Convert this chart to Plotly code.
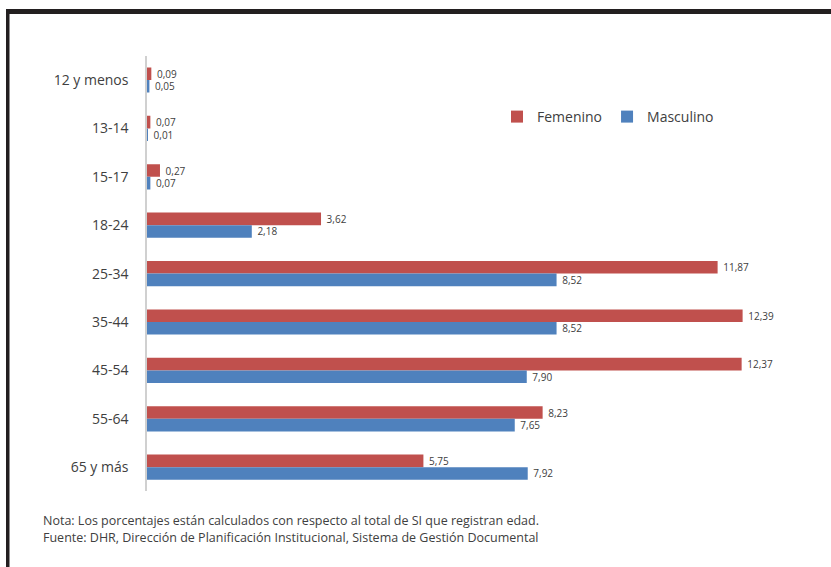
import plotly.graph_objects as go

categories = ["12 y menos", "13-14", "15-17", "18-24", "25-34", "35-44", "45-54", "55-64", "65 y más"]
femenino = [0.09, 0.07, 0.27, 3.62, 11.87, 12.39, 12.37, 8.23, 5.75]
masculino = [0.05, 0.01, 0.07, 2.18, 8.52, 8.52, 7.90, 7.65, 7.92]
notes = [
    "Nota: Los porcentajes están calculados con respecto al total de SI que registran edad.",
    "Fuente: DHR, Dirección de Planificación Institucional, Sistema de Gestión Documental",
]

W, H = 831, 567
FONT = "Open Sans"

def lab(v):
    return "\u00a0" + f"{v:.2f}".replace(".", ",")

fig = go.Figure()
fig.add_trace(go.Bar(
    y=categories, x=femenino, orientation="h", name="Femenino",
    marker=dict(color="#C0504D", line=dict(width=0)),
    text=[lab(v) for v in femenino], textposition="outside", constraintext="none",
    textfont=dict(size=10, color="#404040", family=FONT), cliponaxis=False,
))
fig.add_trace(go.Bar(
    y=categories, x=masculino, orientation="h", name="Masculino",
    marker=dict(color="#4F81BD", line=dict(width=0)),
    text=[lab(v) for v in masculino], textposition="outside", constraintext="none",
    textfont=dict(size=10, color="#404040", family=FONT), cliponaxis=False,
))

x0 = 147 / W
x1 = 820 / W
y_top = 1 - 55.8 / H
y_bot = 1 - 491.4 / H

fig.update_layout(
    width=W, height=H,
    margin=dict(l=0, r=0, t=0, b=0),
    paper_bgcolor="white", plot_bgcolor="white",
    barmode="group", bargap=0.48, bargroupgap=0,
    font=dict(family=FONT, color="#404040", size=12),
    showlegend=True,
    legend=dict(orientation="h", x=497 / W, y=1 - 117 / H, xanchor="left", yanchor="middle",
                font=dict(size=14, color="#404040", family=FONT),
                itemwidth=30, traceorder="normal", bgcolor="rgba(0,0,0,0)"),
    xaxis=dict(domain=[x0, x1], range=[0, 14], visible=False, fixedrange=True),
    yaxis=dict(domain=[y_bot, y_top], type="category", range=[8.5, -0.5],
               showline=True, linecolor="#D0D0D0", linewidth=1.5,
               showgrid=False, zeroline=False, ticks="", ticklabelstandoff=14,
               tickfont=dict(size=14, color="#404040", family=FONT)),
    shapes=[
        dict(type="rect", xref="paper", yref="paper", x0=6 / W, x1=1, y0=1 - 14 / H, y1=1 - 9 / H,
             fillcolor="#231F20", line=dict(width=0), layer="above"),
        dict(type="rect", xref="paper", yref="paper", x0=6 / W, x1=9.5 / W, y0=0, y1=1 - 9 / H,
             fillcolor="#231F20", line=dict(width=0), layer="above"),
    ],
    annotations=[
        dict(text=notes[0], xref="paper", yref="paper", x=41 / W, y=1 - 520 / H,
             xanchor="left", yanchor="middle", showarrow=False,
             font=dict(size=12.5, color="#404040", family=FONT)),
        dict(text=notes[1], xref="paper", yref="paper", x=41 / W, y=1 - 537 / H,
             xanchor="left", yanchor="middle", showarrow=False,
             font=dict(size=12.5, color="#404040", family=FONT)),
    ],
)

fig.write_html("out.html")
